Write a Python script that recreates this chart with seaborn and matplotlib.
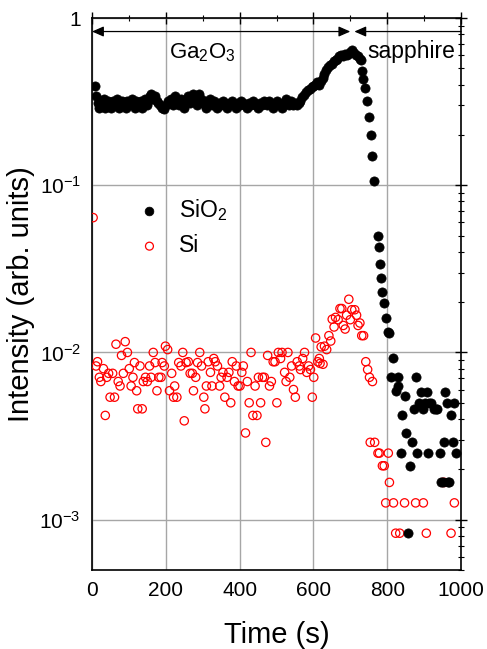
import numpy as np
import matplotlib
matplotlib.use("Agg")
import matplotlib.pyplot as plt
from matplotlib.ticker import LogLocator, MultipleLocator, NullFormatter
import seaborn as sns

# ---- SiO2 signal (filled black) ----
sio2_time = [
    8, 12, 16, 20, 24, 28, 32, 36, 40, 44, 48, 52, 56, 60, 64, 68, 72, 76, 80, 84,
    88, 92, 96, 100, 104, 108, 112, 116, 120, 124, 128, 132, 136, 140, 144, 148, 152, 156, 160, 165,
    170, 175, 180, 185, 190, 196, 200, 205, 210, 215, 220, 225, 230, 235, 240, 245, 250, 255, 260, 265,
    270, 275, 280, 285, 290, 295, 300, 305, 310, 315, 320, 325, 330, 335, 340, 345, 350, 355, 360, 365,
    370, 375, 380, 385, 390, 395, 400, 405, 410, 415, 420, 425, 430, 435, 440, 445, 450, 455, 460, 465,
    470, 475, 480, 485, 490, 495, 500, 505, 510, 515, 520, 527, 530, 535, 540, 545, 550, 555, 560, 565,
    570, 575, 580, 585, 590, 595, 600, 605, 610, 615, 620, 625, 630, 635, 640, 645, 650, 655, 660, 665,
    670, 675, 680, 685, 690, 695, 700, 705, 710, 715, 720, 725, 730, 732, 735, 740, 745, 750, 755, 760,
    765, 775, 778, 781, 784, 787, 792, 797, 803, 806, 811, 817, 823, 828, 830, 837, 841, 847, 852, 856,
    861, 868, 872, 877, 882, 886, 891, 897, 902, 907, 911, 913, 920, 926, 933, 936, 943, 946, 950, 953,
    957, 961, 966, 968, 973, 977, 982, 987,
]
sio2_value = [
    0.39, 0.34, 0.31, 0.29, 0.32, 0.30, 0.33, 0.29, 0.31, 0.32, 0.30, 0.29, 0.32, 0.31, 0.30, 0.33, 0.29, 0.31, 0.32, 0.30,
    0.31, 0.29, 0.32, 0.30, 0.31, 0.33, 0.30, 0.29, 0.32, 0.31, 0.30, 0.32, 0.29, 0.31, 0.33, 0.30, 0.32, 0.34, 0.35, 0.33,
    0.34, 0.32, 0.31, 0.30, 0.29, 0.285, 0.30, 0.32, 0.31, 0.33, 0.30, 0.34, 0.32, 0.30, 0.33, 0.31, 0.29, 0.32, 0.34, 0.31,
    0.33, 0.35, 0.32, 0.30, 0.35, 0.33, 0.31, 0.32, 0.29, 0.31, 0.33, 0.30, 0.32, 0.30, 0.29, 0.31, 0.30, 0.32, 0.31, 0.29,
    0.30, 0.31, 0.32, 0.30, 0.29, 0.31, 0.30, 0.32, 0.31, 0.30, 0.29, 0.31, 0.30, 0.32, 0.31, 0.30, 0.29, 0.31, 0.30, 0.32,
    0.31, 0.30, 0.32, 0.31, 0.29, 0.30, 0.32, 0.31, 0.30, 0.29, 0.31, 0.33, 0.31, 0.30, 0.32, 0.30, 0.31, 0.30, 0.31, 0.32,
    0.335, 0.345, 0.36, 0.37, 0.375, 0.385, 0.39, 0.40, 0.415, 0.40, 0.42, 0.44, 0.46, 0.49, 0.51, 0.52, 0.53, 0.55, 0.56, 0.57,
    0.59, 0.60, 0.59, 0.61, 0.60, 0.61, 0.63, 0.64, 0.62, 0.60, 0.59, 0.57, 0.56, 0.48, 0.43, 0.38, 0.32, 0.255, 0.20, 0.15,
    0.106, 0.05, 0.043, 0.034, 0.028, 0.023, 0.0197, 0.016, 0.0133, 0.013, 0.0071, 0.0092, 0.0059, 0.0071, 0.0063, 0.0025, 0.0042, 0.0055, 0.0033, 0.00083,
    0.0021, 0.0029, 0.0046, 0.0071, 0.0025, 0.0050, 0.0058, 0.0046, 0.0050, 0.0058, 0.0025, 0.0050, 0.0050, 0.0046, 0.0046, 0.0046, 0.0025, 0.00167, 0.00167, 0.0029,
    0.0058, 0.0050, 0.00167, 0.00167, 0.0042, 0.0029, 0.0050, 0.0025,
]

# ---- Si signal (open red) ----
si_time = [
    3, 11, 15, 20, 24, 31, 36, 40, 45, 49, 56, 61, 65, 71, 76, 80, 85, 90, 96, 101,
    106, 111, 115, 121, 124, 130, 136, 139, 145, 150, 156, 160, 166, 171, 176, 181, 187, 190, 196, 199,
    205, 210, 216, 221, 224, 230, 235, 241, 246, 250, 255, 261, 266, 272, 275, 281, 286, 292, 297, 303,
    306, 310, 315, 321, 325, 330, 334, 340, 346, 350, 355, 360, 366, 371, 376, 380, 386, 391, 396, 401,
    406, 410, 416, 421, 426, 431, 436, 442, 447, 451, 457, 462, 467, 471, 476, 481, 486, 491, 496, 501,
    505, 511, 515, 522, 526, 531, 536, 541, 546, 551, 556, 562, 565, 571, 576, 582, 587, 592, 597, 601,
    606, 612, 616, 618, 621, 626, 630, 636, 642, 647, 651, 656, 660, 667, 672, 677, 681, 686, 690, 696,
    700, 704, 712, 717, 721, 726, 731, 736, 742, 747, 752, 760, 754, 766, 775, 779, 787, 792, 803, 806,
    796, 817, 847, 877, 898, 982, 823, 834, 906, 973, 950, 955,
]
si_value = [
    0.064, 0.0083, 0.0088, 0.0071, 0.0067, 0.0080, 0.0042, 0.0071, 0.0075, 0.0054, 0.0075, 0.0054, 0.0112, 0.0067, 0.0063, 0.0096, 0.0075, 0.0116, 0.0100, 0.0080,
    0.0063, 0.0071, 0.0087, 0.0059, 0.0046, 0.0083, 0.0046, 0.0067, 0.0071, 0.0067, 0.0083, 0.0071, 0.0100, 0.0087, 0.0059, 0.0071, 0.0071, 0.0087, 0.0083, 0.0109,
    0.0104, 0.0059, 0.0075, 0.0054, 0.0063, 0.0054, 0.0087, 0.0083, 0.0100, 0.0039, 0.0087, 0.0088, 0.0075, 0.0075, 0.0059, 0.0071, 0.0087, 0.0100, 0.0083, 0.0054,
    0.0046, 0.0063, 0.0088, 0.0076, 0.0063, 0.0092, 0.0088, 0.0083, 0.0063, 0.0071, 0.0076, 0.0054, 0.0071, 0.0076, 0.0050, 0.0088, 0.0067, 0.0083, 0.0063, 0.0063,
    0.0076, 0.0083, 0.0033, 0.0067, 0.0050, 0.0100, 0.0042, 0.0063, 0.0042, 0.0071, 0.0050, 0.0071, 0.0071, 0.0029, 0.0096, 0.0063, 0.0067, 0.0088, 0.0088, 0.0050,
    0.0100, 0.0092, 0.0100, 0.0076, 0.0067, 0.0100, 0.0071, 0.0083, 0.0060, 0.0054, 0.0088, 0.0083, 0.0079, 0.0092, 0.0100, 0.0076, 0.0083, 0.0079, 0.0054, 0.0071,
    0.0122, 0.0088, 0.0092, 0.0086, 0.0108, 0.0085, 0.0109, 0.0104, 0.0126, 0.0117, 0.0158, 0.0142, 0.0162, 0.0157, 0.0183, 0.0183, 0.0145, 0.0138, 0.0167, 0.0208,
    0.0157, 0.0180, 0.0180, 0.0167, 0.0145, 0.0150, 0.0126, 0.0126, 0.0088, 0.0079, 0.0071, 0.0067, 0.0029, 0.0029, 0.0025, 0.0025, 0.0021, 0.0021, 0.0025, 0.00167,
    0.00126, 0.00126, 0.00126, 0.00126, 0.00126, 0.00126, 0.00083, 0.00083, 0.00083, 0.00083, 0.00167, 0.00167,
]

x_ticks = [0, 200, 400, 600, 800, 1000]
y_ticks = [1e-3, 1e-2, 1e-1, 1]
y_tick_labels = ["$10^{-3}$", "$10^{-2}$", "$10^{-1}$", "1"]

sns.set_style("white")
plt.rcParams["font.family"] = ["Liberation Sans", "DejaVu Sans"]
plt.rcParams["mathtext.fontset"] = "custom"
plt.rcParams["mathtext.rm"] = "Liberation Sans"
plt.rcParams["mathtext.it"] = "Liberation Sans:italic"
plt.rcParams["mathtext.bf"] = "Liberation Sans:bold"
for key in ["text.color", "axes.labelcolor", "xtick.color", "ytick.color"]:
    plt.rcParams[key] = "black"

fig = plt.figure(figsize=(4.87, 6.49), dpi=100)
ax = fig.add_axes([92 / 487, 1 - 570 / 649, (461 - 92) / 487, (570 - 18) / 649])

sns.scatterplot(x=si_time, y=si_value, ax=ax, marker="o", s=36,
                color="red", facecolors="none", edgecolor="red",
                linewidth=0.9, label="Si", zorder=3)
sns.scatterplot(x=sio2_time, y=sio2_value, ax=ax, marker="o", s=44,
                color="black", edgecolor="black", linewidth=0.5,
                label="SiO$_2$", zorder=4)

ax.set_yscale("log")
ax.set_xlim(0, 1000)
ax.set_ylim(5e-4, 1)

ax.set_xticks(x_ticks)
ax.set_xticklabels([str(v) for v in x_ticks])
ax.xaxis.set_minor_locator(MultipleLocator(100))
ax.set_yticks(y_ticks)
ax.set_yticklabels(y_tick_labels)
ax.yaxis.set_minor_locator(LogLocator(base=10, subs=np.arange(2, 10)))
ax.yaxis.set_minor_formatter(NullFormatter())

ax.grid(True, which="major", color="#a6a6a6", linewidth=1.0)
ax.set_axisbelow(True)

for side in ["left", "right", "top", "bottom"]:
    ax.spines[side].set_visible(True)
    ax.spines[side].set_color("black")
    ax.spines[side].set_linewidth(1.2)

ax.tick_params(which="major", direction="inout", length=8, width=1.0,
               top=True, right=True, labelsize=15, color="black",
               labelcolor="black", pad=4)
ax.tick_params(which="minor", direction="inout", length=5, width=0.8,
               top=True, right=True, color="black")

ax.set_xlabel("Time (s)", fontsize=21, labelpad=15, color="black")
ax.set_ylabel("Intensity (arb. units)", fontsize=21, labelpad=3, color="black")

# Region markers along the top
arrow_y = 0.83
ax.annotate("", xy=(700, arrow_y), xytext=(0, arrow_y),
            arrowprops=dict(arrowstyle="<|-|>,head_length=0.5,head_width=0.22",
                            color="black", lw=0.9, mutation_scale=14,
                            shrinkA=0, shrinkB=0), zorder=5)
ax.annotate("", xy=(711, arrow_y), xytext=(1000, arrow_y),
            arrowprops=dict(arrowstyle="-|>,head_length=0.5,head_width=0.22",
                            color="black", lw=0.9, mutation_scale=14,
                            shrinkA=0, shrinkB=0), zorder=5)
ax.text(300, 0.575, "Ga$_2$O$_3$", fontsize=16, ha="center", va="baseline")
ax.text(866, 0.575, "sapphire", fontsize=16.5, ha="center", va="baseline")

handles, labels = ax.get_legend_handles_labels()
order = [labels.index("SiO$_2$"), labels.index("Si")]
ax.legend([handles[i] for i in order], [labels[i] for i in order],
          loc="center left", bbox_to_anchor=(138 / 487, 1 - 227 / 649),
          bbox_transform=fig.transFigure, frameon=False, fontsize=16.5,
          handlelength=1.0, handletextpad=0.8, labelspacing=0.5,
          borderpad=0, borderaxespad=0, markerscale=0.95)

fig.savefig("out.png", dpi=100)
